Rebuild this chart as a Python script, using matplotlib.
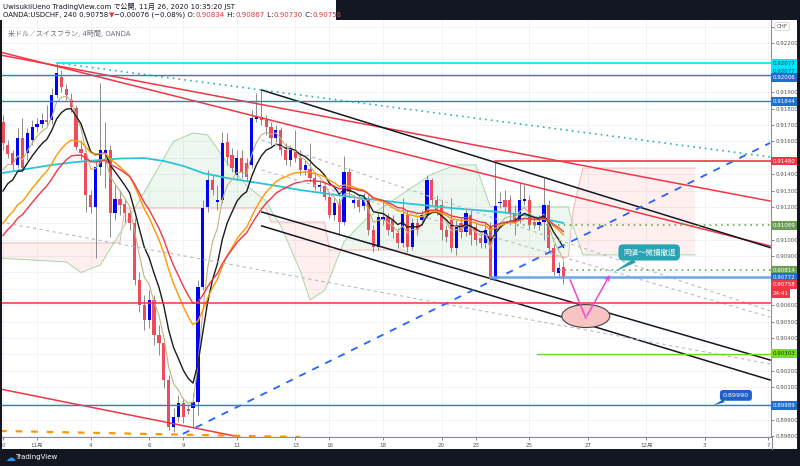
import numpy as np
import pandas as pd
import matplotlib
matplotlib.use("Agg")
import matplotlib.pyplot as plt
from matplotlib.patches import Rectangle, Ellipse

plt.rcParams['font.family'] = ['DejaVu Sans', 'Noto Sans CJK JP']

# 4h candles, OANDA:USDCHF (bar 0 = Oct 30 02:00 JST)
opens = [
    .91718, .91578, .91529, .91456, .91620, .91529, .91608, .91688, .91706, .91730,
    .91730, .91883, .91993, .91919, .91852, .91804, .91553, .91529, .91273, .91200,
    .91444, .91529, .91547, .91163, .91248, .91218, .91163, .91102, .90754, .90602,
    .90510, .90632, .90419, .90370, .90144, .89857, .89918, .90004, .89967, .89973,
    .90010, .90711, .91200, .91364, .91230, .91242, .91596, .91517, .91395, .91498,
    .91468, .91456, .91736, .91749, .91730, .91688, .91620, .91669, .91547, .91486,
    .91547, .91498, .91425, .91431, .91376, .91322, .91328, .91261, .91151, .91224,
    .91108, .91413, .91224, .91242, .91206, .91242, .91059, .90956, .91120, .91139,
    .91120, .91041, .90980, .91151, .90956, .91102, .91120, .91151, .91364, .91242,
    .91212, .91059, .91120, .90949, .91102, .91047, .91151, .91078, .91010, .90980,
    .91078, .90766, .91224, .91242, .91242, .91163, .91120, .91236, .91242, .91108,
    .91090, .91108, .91212, .90949, .90797, .90834]
highs = [
    .91761, .91608, .91547, .91681, .91742, .91681, .91730, .91742, .91773, .91822,
    .91926, .92078, .92035, .91950, .91895, .91822, .91608, .91547, .91303, .91486,
    .91956, .91718, .91578, .91334, .91303, .91254, .91193, .91132, .90803, .90663,
    .90693, .90663, .90480, .90400, .90175, .89973, .90053, .90034, .89992, .90065,
    .90754, .91242, .91425, .91395, .91334, .91657, .91651, .91560, .91547, .91547,
    .91498, .91791, .91895, .91913, .91761, .91718, .91700, .91688, .91590, .91578,
    .91669, .91547, .91486, .91590, .91413, .91364, .91352, .91291, .91254, .91254,
    .91511, .91437, .91273, .91273, .91285, .91273, .91090, .91169, .91242, .91163,
    .91151, .91071, .91254, .91181, .91132, .91132, .91181, .91395, .91376, .91273,
    .91242, .91090, .91254, .91120, .91132, .91193, .91181, .91108, .91041, .91108,
    .91108, .91474, .91291, .91303, .91273, .91212, .91352, .91334, .91273, .91132,
    .91151, .91376, .91242, .90974, .90864, .90867]
lows = [
    .91547, .91498, .91425, .91437, .91413, .91486, .91578, .91657, .91681, .91694,
    .91706, .91865, .91901, .91852, .91779, .91547, .91486, .91169, .91163, .90888,
    .91395, .91315, .91017, .91120, .91151, .91108, .91059, .90724, .90559, .90449,
    .90461, .90358, .90297, .90095, .89839, .89827, .89888, .89882, .89937, .89851,
    .89930, .90693, .91169, .91273, .91181, .91224, .91456, .91413, .91364, .91376,
    .91352, .91437, .91718, .91700, .91639, .91578, .91596, .91517, .91456, .91450,
    .91474, .91395, .91395, .91352, .91303, .91291, .91242, .91132, .91120, .91029,
    .91090, .91261, .91193, .91169, .91181, .91029, .90925, .90937, .91090, .91029,
    .91010, .90949, .90956, .90925, .90937, .91029, .91090, .91132, .91212, .91151,
    .90998, .90986, .90925, .90907, .91010, .91023, .90968, .90968, .90949, .90949,
    .90754, .90754, .91193, .91169, .91090, .91029, .91102, .91212, .91059, .91071,
    .91059, .90998, .90925, .90785, .90772, .90730]
closes = [
    .91590, .91523, .91456, .91620, .91437, .91651, .91688, .91706, .91730, .91718,
    .91883, .92017, .91932, .91883, .91810, .91566, .91529, .91273, .91200, .91444,
    .91547, .91547, .91163, .91248, .91212, .91163, .91102, .90754, .90602, .90510,
    .90632, .90419, .90370, .90144, .89857, .89918, .90004, .89918, .89955, .90010,
    .90711, .91193, .91364, .91303, .91242, .91590, .91505, .91437, .91498, .91413,
    .91383, .91742, .91749, .91730, .91688, .91620, .91669, .91547, .91486, .91547,
    .91498, .91425, .91456, .91376, .91322, .91334, .91261, .91151, .91224, .91108,
    .91413, .91291, .91242, .91200, .91242, .91059, .90956, .91139, .91139, .91059,
    .91047, .90980, .91157, .90956, .91102, .91059, .91151, .91364, .91242, .91181,
    .91059, .91017, .90949, .91078, .91047, .91163, .91029, .90998, .90980, .91059,
    .90766, .91206, .91230, .91200, .91163, .91120, .91242, .91248, .91090, .91090,
    .91108, .91212, .90949, .90803, .90827, .90758]

# moving averages: (period, value at left edge, colour, width)
ma_specs = [
    (5, 0.91346, '#c2b280', 0.8),
    (9, 0.91224, '#1c1c1c', 1.0),
    (20, 0.91047, '#ff9800', 1.0),
    (26, 0.90980, '#f23645', 1.0),
]
# long moving average (bar, price)
long_ma_x = [0, 5, 10, 15, 20, 24, 29, 33, 37, 41, 46, 55, 61, 70, 82, 92, 102, 108, 115]
long_ma_p = [.91407, .91432, .91456, .91474, .91486, .91495, .91498, .91480, .91450,
             .91407, .91376, .91334, .91303, .91266, .91224, .91193, .91169, .91145, .91102]

# ichimoku cloud edges (bar, span A, span B)
cloud_x = [-1, 13, 16, 20, 24, 25, 29, 35, 39, 42, 46, 50, 54, 55, 57, 61, 63, 66,
           67, 70, 75, 82, 84, 88, 93, 97, 100, 116, 117, 119, 142]
span_a = [.90888, .90864, .90800, .90846, .91040, .91090, .91290, .91600, .91651,
          .91639, .91470, .91330, .91235, .91180, .91085, .90810, .90632, .90690,
          .90760, .90990, .91140, .91280, .91320, .91400, .91456, .91456, .91200,
          .91200, .91080, .90907, .90907]
span_b = [.90980, .90980, .90980, .90980, .90980, .91193, .91193, .91193, .91193,
          .91193, .91193, .91193, .91193, .91108, .91108, .91108, .91108, .91108,
          .90937, .90937, .90937, .90937, .90895, .90895, .90895, .90895, .90895,
          .90895, .91180, .91437, .91437]

# date axis
date_pos = [0, 7, 18, 30, 37, 48, 60, 67, 78, 90, 97, 108, 120, 132, 144, 157]
date_labels = ['0', '11月', '4', '6', '9', '11', '13', '16', '18', '20', '23', '25',
               '27', '12月', '3', '7']

# price scale ticks (those hidden under tags are left blank)
price_ticks = [0.898, 0.899, 0.900, 0.901, 0.902, 0.903, 0.904, 0.905, 0.906, 0.907,
               0.908, 0.909, 0.910, 0.911, 0.912, 0.913, 0.914, 0.915, 0.916, 0.917,
               0.918, 0.919, 0.920, 0.921, 0.922, 0.923]
hidden_ticks = [0.900, 0.903, 0.907, 0.908, 0.911, 0.915, 0.920, 0.921, 0.923]

# drawings: ((bar0, price0), (bar1, price1)), colour, width, style
trend_lines = [
    ((-0.6, 0.92145), (157.4, 0.90962), '#f23645', 1.1, '-'),
    ((-0.6, 0.92127), (157.4, 0.91236), '#f23645', 1.1, '-'),
    ((-0.6, 0.90089), (48.6, 0.89796), '#f23645', 1.1, '-'),
    ((53.1, 0.91913), (157.4, 0.90952), '#131722', 1.1, '-'),
    ((53.1, 0.91169), (157.4, 0.90266), '#131722', 1.1, '-'),
    ((53.1, 0.91084), (157.4, 0.90144), '#131722', 1.1, '-'),
    ((53.1, 0.91608), (157.4, 0.90565), '#b8bbc4', 0.8, (0, (3, 3))),
    ((53.1, 0.91425), (157.4, 0.90528), '#b8bbc4', 0.8, (0, (3, 3))),
    ((-0.6, 0.91108), (157.4, 0.90242), '#b8bbc4', 0.8, (0, (3, 3))),
    ((11.1, 0.92078), (157.4, 0.91505), '#2bb3b0', 1.2, (0, (1, 2.5))),
    ((36.9, 0.89815), (157.4, 0.91590), '#2962ff', 1.3, (0, (4, 4))),
    ((-0.6, 0.89833), (61.0, 0.89796), '#ff9800', 1.6, (0, (3, 4))),
]
# horizontal lines: price, start bar, colour, width, style
h_lines = [
    (0.92077, 11, '#00e5ff', 1.2, '-'),
    (0.92006, -1, '#2f7dd8', 1.0, '-'),
    (0.91844, -1, '#2f7dd8', 1.0, '-'),
    (0.91480, 101, '#f23645', 1.2, '-'),
    (0.91089, 105.5, '#6aa84f', 1.2, (0, (1, 2.5))),
    (0.90814, 114, '#6aa84f', 1.2, (0, (1, 2.5))),
    (0.90772, 100, '#6fa5e8', 1.8, '-'),
    (0.90615, -1, '#f23645', 1.1, '-'),
    (0.90303, 109.6, '#64dd17', 1.0, '-'),
    (0.89989, -1, '#2f7dd8', 1.0, '-'),
]
# right scale tags: price, text, background, text colour, pixel shift
scale_tags = [
    (0.92077, '0.92077', '#00e5ff', '#0d3b66', 0),
    (0.92077, '0.92077', '#00e5ff', '#0d3b66', 8),
    (0.92006, '0.92006', '#1e6fd0', 'white', 3),
    (0.91844, '0.91844', '#1e6fd0', 'white', 0),
    (0.91480, '0.91480', '#f23645', 'white', 0),
    (0.91089, '0.91089', '#6a9f55', 'white', 0),
    (0.90814, '0.90814', '#6a9f55', 'white', 0),
    (0.90772, '0.90772', '#1e6fd0', 'white', 0),
    (0.90758, '0.90758', '#f23645', 'white', 5),
    (0.90758, '24:41', '#f23645', 'white', 14),
    (0.90303, '0.90303', '#76dd22', '#1b3a00', 0),
    (0.89989, '0.89989', '#1e6fd0', 'white', 0),
]

W, H = 800, 466
fig = plt.figure(figsize=(8, 4.66), dpi=100, facecolor='#131722')


def fx(px):
    return px / W


def fy(py):
    return 1 - py / H


fig.patches.append(Rectangle((fx(2), fy(449)), fx(795), 429 / H, transform=fig.transFigure,
                             fc='white', ec='none', zorder=-5))
fig.patches.append(Rectangle((0, fy(20)), fx(336), 20 / H, transform=fig.transFigure,
                             fc='white', ec='none', zorder=-5))

ax = fig.add_axes([fx(2), fy(437), 769 / W, 417 / H])
ax.set_facecolor('white')
ax.set_xlim(-0.2, 157.6)
ax.set_ylim(0.897961, 0.923403)

# cloud
ca, cb = np.array(span_a), np.array(span_b)
ax.fill_between(cloud_x, ca, cb, where=ca >= cb, interpolate=True, color='#4caf50', alpha=0.09, lw=0, zorder=1)
ax.fill_between(cloud_x, ca, cb, where=ca < cb, interpolate=True, color='#ff5252', alpha=0.09, lw=0, zorder=1)
ax.plot(cloud_x, ca, color='#a5d6a7', lw=0.7, zorder=1.2)
ax.plot(cloud_x, cb, color='#f5b5b5', lw=0.7, zorder=1.2)

# candles
o, h, l, c = map(np.array, (opens, highs, lows, closes))
x = np.arange(len(c))
col = np.where(c >= o, '#0000ff', '#ee4c5a')
ax.vlines(x, l, h, color='#8a8a8a', lw=0.7, zorder=3)
ax.bar(x, np.maximum(np.abs(c - o), 0.00005), bottom=np.minimum(o, c), width=0.66,
       color=col, lw=0, zorder=4)

# moving averages
ax.plot(long_ma_x, long_ma_p, color='#26c6da', lw=1.3, zorder=5)
for period, seed, color, lw in ma_specs:
    s = pd.Series([seed] + closes).ewm(span=period, adjust=False).mean().iloc[1:]
    ax.plot(x, s.to_numpy(), color=color, lw=lw, zorder=5)

# drawings
for (x0, p0), (x1, p1), color, lw, ls in trend_lines:
    ax.plot([x0, x1], [p0, p1], color=color, lw=lw, ls=ls, zorder=6)
for price, start, color, lw, ls in h_lines:
    ax.plot([start, 158], [price, price], color=color, lw=lw, ls=ls, zorder=6)

ax.add_patch(Ellipse((119.6, 0.90534), 9.85, 0.0014, fc='#f7c3c3', ec='#444', lw=0.8, zorder=7))
ax.plot([116.4, 119.6], [0.90754, 0.90522], color='#f048d0', lw=1.1, zorder=8)
ax.annotate('', xy=(124.8, 0.90800), xytext=(119.6, 0.90522),
            arrowprops=dict(arrowstyle='->', color='#f048d0', lw=1.1, mutation_scale=7), zorder=8)
ax.annotate('同値～微損撤退', xy=(125.2, 0.90800), xytext=(132.6, 0.90922),
            fontsize=5.4, color='white', ha='center', va='center', zorder=9,
            bbox=dict(boxstyle='round,pad=0.6', fc='#2aa3b4', ec='none'),
            arrowprops=dict(arrowstyle='wedge,tail_width=0.6', fc='#2aa3b4', ec='none', shrinkA=0, shrinkB=0))
ax.annotate('0.89990', xy=(145.8, 0.89989), xytext=(150.4, 0.90050),
            fontsize=4.6, color='white', ha='center', va='center', zorder=9,
            bbox=dict(boxstyle='round,pad=0.45', fc='#1e5fc8', ec='none'),
            arrowprops=dict(arrowstyle='wedge,tail_width=0.5', fc='#1e5fc8', ec='none', shrinkA=0, shrinkB=0))

# axes styling
for side in ('top', 'left'):
    ax.spines[side].set_visible(False)
for side in ('right', 'bottom'):
    ax.spines[side].set_color('#8c8f99')
    ax.spines[side].set_linewidth(0.8)
ax.yaxis.tick_right()
ax.set_yticks(price_ticks)
ax.set_yticklabels(['' if any(abs(v - hv) < 1e-7 for hv in hidden_ticks) else f'{v:.5f}'
                    for v in price_ticks])
ax.tick_params(axis='y', labelsize=4, colors='#555', length=2, pad=1, width=0.5)
ax.set_xticks(date_pos)
ax.set_xticklabels(date_labels)
ax.tick_params(axis='x', labelsize=4, colors='#555', length=2, pad=2, width=0.5)
ax.grid(color='#eef1f7', lw=0.6, zorder=0)
ax.set_axisbelow(True)

for price, text, fc, tc, dy in scale_tags:
    ax.annotate(text, xy=(1, price), xycoords=('axes fraction', 'data'),
                xytext=(1.2, -dy * 0.72), textcoords='offset points', ha='left', va='center',
                fontsize=4, color=tc, annotation_clip=False, zorder=12,
                bbox=dict(boxstyle='square,pad=0.35', fc=fc, ec='none'))
ax.annotate('CHF', xy=(1, 0.92300), xycoords=('axes fraction', 'data'), xytext=(4, 0),
            textcoords='offset points', ha='left', va='center', fontsize=4, color='#555',
            annotation_clip=False, zorder=12,
            bbox=dict(boxstyle='round,pad=0.3', fc='white', ec='#c8c8c8', lw=0.5))

ax.text(0.008, 0.975, '米ドル／スイスフラン, 4時間, OANDA', transform=ax.transAxes,
        fontsize=5, color='#6d707a', va='top', ha='left', zorder=12)

fig.add_artist(plt.Line2D([fx(771.5), fx(771.5)], [fy(437), fy(449)], color='#8c8f99', lw=0.8))

# header lines
fig.canvas.draw()
renderer = fig.canvas.get_renderer()


def chain(px, py, pieces, size=5.0):
    xpos = px
    for txt, color in pieces:
        t = fig.text(fx(xpos), fy(py), txt, fontsize=size, color=color, va='center', ha='left')
        xpos = t.get_window_extent(renderer).x1 + 0.3


dark, red = '#131722', '#e0393e'
chain(3, 6, [('UwisukiiUeno TradingView.com で公開, 11月 26, 2020 10:35:20 JST', dark)])
chain(3, 15, [('OANDA:USDCHF, 240 0.90758', dark), ('▼', red), ('−0.00076 (−0.08%) O:', dark),
              ('0.90834', red), (' H:', dark), ('0.90867', red), (' L:', dark), ('0.90730', red),
              (' C:', dark), ('0.90758', red)])

fig.text(fx(5), fy(457.5), '☁', fontsize=7, color='#2196f3', va='center', ha='left')
fig.text(fx(15), fy(457.5), 'TradingView', fontsize=5, color='white', va='center', ha='left')

fig.savefig('out.png', dpi=100, facecolor=fig.get_facecolor())
